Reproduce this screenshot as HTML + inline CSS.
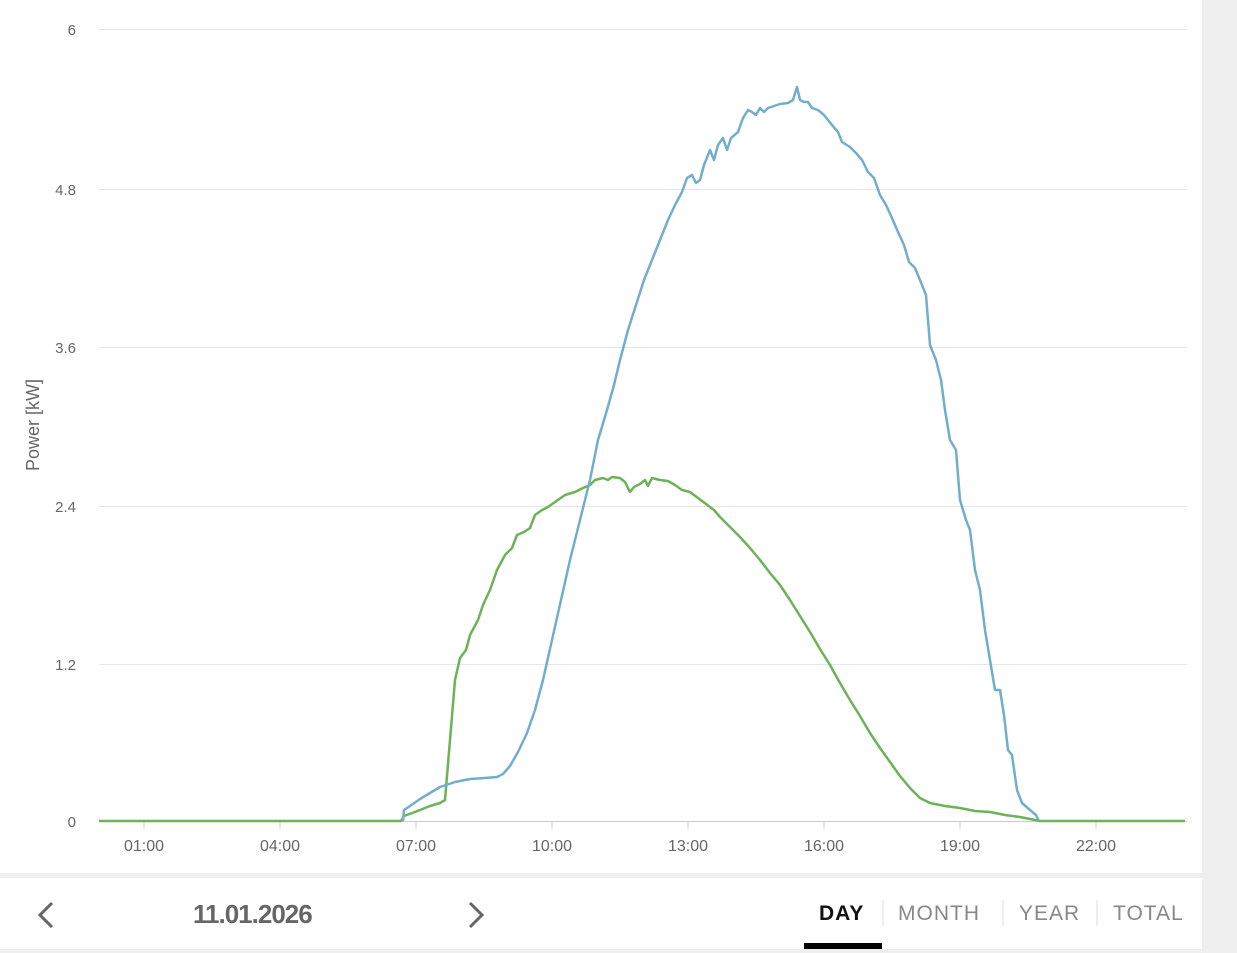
<!DOCTYPE html>
<html><head><style>
body{margin:0;width:1237px;height:953px;background:#efefef;position:relative;overflow:hidden;font-family:"Liberation Sans",sans-serif}
.card{position:absolute;left:0;top:0;width:1202px;height:873px;background:#fff}
.bar{position:absolute;left:0;top:878px;width:1202px;height:71px;background:#fff}
.t{position:absolute;font-size:21px;color:#888;letter-spacing:1px}
</style></head><body>
<div class="card">
<svg width="1202" height="873" style="position:absolute;left:0;top:0" font-family="Liberation Sans, sans-serif">
<g stroke="#e6e6e6" stroke-width="1">
<line x1="99" y1="29.5" x2="1187" y2="29.5"/><line x1="99" y1="189.5" x2="1187" y2="189.5"/>
<line x1="99" y1="347.5" x2="1187" y2="347.5"/><line x1="99" y1="506.5" x2="1187" y2="506.5"/>
<line x1="99" y1="664.5" x2="1187" y2="664.5"/>
</g>
<line x1="99" y1="821.5" x2="1187" y2="821.5" stroke="#ccc"/>
<g stroke="#ccc"><line x1="144" y1="822" x2="144" y2="829"/><line x1="280" y1="822" x2="280" y2="829"/><line x1="416" y1="822" x2="416" y2="829"/><line x1="552" y1="822" x2="552" y2="829"/><line x1="688" y1="822" x2="688" y2="829"/><line x1="824" y1="822" x2="824" y2="829"/><line x1="960" y1="822" x2="960" y2="829"/><line x1="1096" y1="822" x2="1096" y2="829"/></g>
<g font-size="15" fill="#666" text-anchor="end">
<text x="76" y="35">6</text><text x="76" y="195">4.8</text><text x="76" y="353">3.6</text><text x="76" y="512">2.4</text><text x="76" y="670">1.2</text><text x="76" y="827">0</text></g>
<g font-size="16" fill="#666" text-anchor="middle">
<text x="144" y="851">01:00</text><text x="280" y="851">04:00</text><text x="416" y="851">07:00</text><text x="552" y="851">10:00</text><text x="688" y="851">13:00</text><text x="824" y="851">16:00</text><text x="960" y="851">19:00</text><text x="1096" y="851">22:00</text></g>
<text transform="translate(39,425) rotate(-90)" font-size="18" fill="#666" text-anchor="middle">Power [kW]</text>
<polyline fill="none" stroke="#6cb257" stroke-width="2.5" stroke-linejoin="round" points="99,821 401,821 404,816 415,812 430,806 440,803 445,800 450,740 455,680 460,658 466,650 470,635 478,620 483,605 490,590 497,570 505,555 512,548 517,535 524,532 530,528 535,515 542,510 548,507 555,502 565,495 575,492 583,488 590,485 595,480 603,478 608,480 612,477 620,478 625,482 630,492 634,487 640,484 645,480 648,486 652,478 660,480 668,481 675,485 682,490 690,492 698,498 706,504 714,510 720,517 730,527 740,537 750,548 760,560 770,573 780,585 790,600 800,616 810,632 820,649 830,665 840,683 850,700 860,716 870,733 880,748 890,762 900,776 910,788 920,798 930,803 945,806 960,808 975,811 990,812 1005,815 1020,817 1040,821 1185,821"/>
<polyline fill="none" stroke="#72aecb" stroke-width="2.5" stroke-linejoin="round" points="403,821 404,810 410,806 420,799 430,793 440,787 455,782 470,779 485,778 497,777 503,774 510,766 518,752 527,733 535,710 543,680 552,640 561,600 570,560 580,520 590,480 598,440 607,410 614,385 620,360 628,330 636,305 644,280 652,260 660,240 668,220 675,205 682,192 687,178 692,175 696,183 700,180 704,165 710,150 714,160 718,145 723,138 727,150 731,138 738,132 743,118 748,110 752,112 756,115 760,108 764,112 768,108 774,106 780,104 788,103 793,100 797,87 800,100 804,102 808,102 812,108 818,110 824,115 832,125 838,132 842,142 850,147 856,153 862,160 868,172 874,178 880,195 886,205 892,218 898,232 904,245 909,262 915,268 920,280 926,295 930,345 936,360 941,380 945,410 950,440 956,450 960,500 966,520 970,530 975,570 980,590 985,630 990,660 995,690 1000,690 1004,715 1008,750 1012,755 1017,790 1022,803 1030,810 1036,815 1039,821"/>
</svg>
</div>
<div class="bar">
<svg width="1202" height="71" style="position:absolute;left:0;top:0">
<polyline points="52,25 40,37 52,49" fill="none" stroke="#666" stroke-width="3"/>
<polyline points="470,25 482,37 470,49" fill="none" stroke="#666" stroke-width="3"/>
<g stroke="#ddd"><line x1="883" y1="22" x2="883" y2="48"/><line x1="1003" y1="22" x2="1003" y2="48"/><line x1="1097" y1="22" x2="1097" y2="48"/></g>
<rect x="804" y="65" width="78" height="6" fill="#000"/>
</svg>
<div style="position:absolute;left:193px;top:21px;font-size:26px;font-weight:bold;color:#666;letter-spacing:-1px">11.01.2026</div>
<div class="t" style="left:819px;top:24px;color:#111;font-weight:bold">DAY</div>
<div class="t" style="left:898px;top:24px">MONTH</div>
<div class="t" style="left:1019px;top:24px">YEAR</div>
<div class="t" style="left:1113px;top:24px">TOTAL</div>
</div>
</body></html>
